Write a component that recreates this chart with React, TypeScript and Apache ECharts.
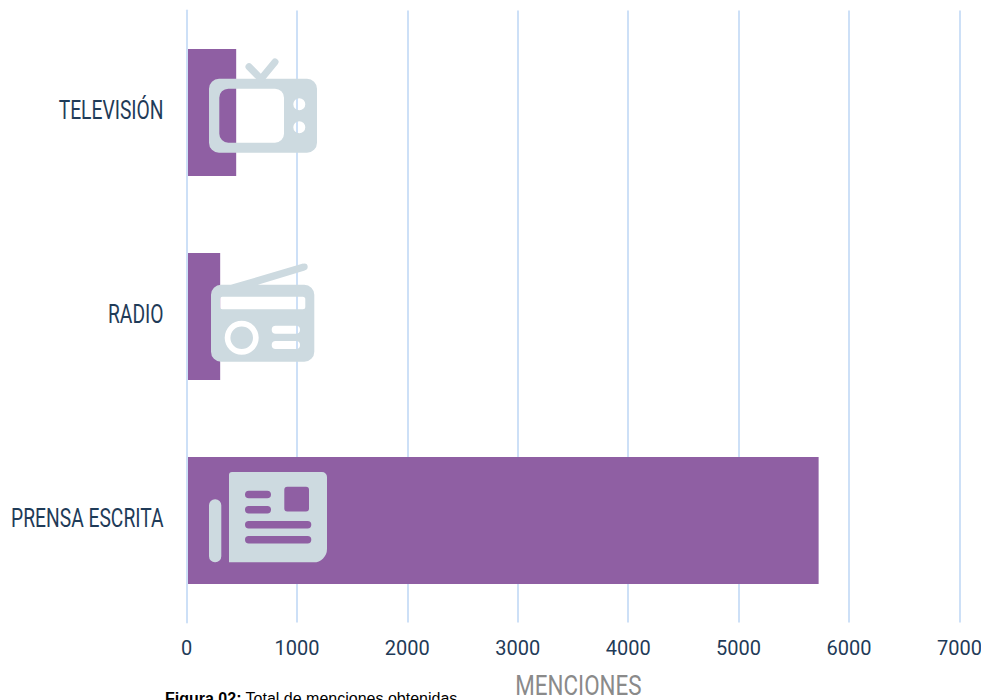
import React, { useEffect, useRef } from "react";
import * as echarts from "echarts";

const categories = ["PRENSA ESCRITA", "RADIO", "TELEVISIÓN"];
const menciones = [5725, 305, 450];
const xTicks = { min: 0, max: 7000, interval: 1000 };
const axisName = "MENCIONES";
const captionBold = "Figura 02:";
const captionText = " Total de menciones obtenidas";

const ICON = "#cddae0";
const BAR = "#8f5fa3";
const GRID = "#cde0f7";
const LABEL = "#1f3b58";
const FONT = "Roboto, sans-serif";

// cw rounded rect
const rr = (x: number, y: number, w: number, h: number, r: number) =>
  `M${x + r} ${y}L${x + w - r} ${y}A${r} ${r} 0 0 1 ${x + w} ${y + r}L${x + w} ${y + h - r}A${r} ${r} 0 0 1 ${x + w - r} ${y + h}L${x + r} ${y + h}A${r} ${r} 0 0 1 ${x} ${y + h - r}L${x} ${y + r}A${r} ${r} 0 0 1 ${x + r} ${y}Z`;
// ccw rounded rect (hole)
const hole = (x: number, y: number, w: number, h: number, r: number) =>
  `M${x + r} ${y}A${r} ${r} 0 0 0 ${x} ${y + r}L${x} ${y + h - r}A${r} ${r} 0 0 0 ${x + r} ${y + h}L${x + w - r} ${y + h}A${r} ${r} 0 0 0 ${x + w} ${y + h - r}L${x + w} ${y + r}A${r} ${r} 0 0 0 ${x + w - r} ${y}Z`;
const circle = (cx: number, cy: number, r: number) => rr(cx - r, cy - r, 2 * r, 2 * r, r);
const circleHole = (cx: number, cy: number, r: number) => hole(cx - r, cy - r, 2 * r, 2 * r, r);

const tvPath = [
  rr(209, 78.7, 108, 74, 10),
  hole(219.3, 88.7, 64.7, 54, 9),
  circleHole(299.3, 104.3, 6),
  circleHole(299.3, 127.3, 6),
].join("");

const radioPath = [
  rr(211, 284.7, 103.3, 77, 10),
  "M230 285L303 263.6L305.6 270.2L257 285Z",
  circle(304.3, 266.8, 3.4),
  hole(220, 296.7, 85.3, 12.6, 2.5),
  circleHole(241.7, 337.7, 17),
  circle(241.7, 337.7, 11.3),
  hole(271.7, 325.7, 28.3, 8, 4),
  hole(271.7, 341, 28.3, 8, 4),
].join("");

const pressPath = [
  rr(209, 499.3, 12.3, 63, 6),
  "M232 472L322 472A5 5 0 0 1 327 477L327 549A13.3 13.3 0 0 1 313.7 562.3L229 562.3L229 475A3 3 0 0 1 232 472Z",
  hole(284.3, 486.7, 24.7, 24.7, 3),
  hole(245, 490.7, 26, 7.6, 3.8),
  hole(245, 506, 26, 7.4, 3.7),
  hole(245, 521, 66.3, 7.4, 3.7),
  hole(245, 536, 66.3, 7.4, 3.7),
].join("");

echarts.graphic.registerShape("tvIcon", echarts.graphic.extendPath(tvPath, {}));
echarts.graphic.registerShape("radioIcon", echarts.graphic.extendPath(radioPath, {}));
echarts.graphic.registerShape("pressIcon", echarts.graphic.extendPath(pressPath, {}));

export default function App() {
  const ref = useRef<HTMLDivElement>(null);
  useEffect(() => {
    const chart = echarts.init(ref.current!, undefined, { renderer: "svg" });
    chart.setOption({
      animation: false,
      backgroundColor: "#ffffff",
      grid: { left: 186.5, right: 21.6, top: 10.5, bottom: 77.5, containLabel: false, outerBoundsMode: "none" },
      xAxis: {
        type: "value",
        min: xTicks.min,
        max: xTicks.max,
        interval: xTicks.interval,
        axisLine: { show: false },
        axisTick: { show: false },
        axisLabel: { color: LABEL, fontSize: 20, fontWeight: 400, fontFamily: FONT, margin: 15, showMinLabel: true, showMaxLabel: true, formatter: (v: number) => String(v) },
        splitLine: { show: true, lineStyle: { color: GRID, width: 2 } },
      },
      yAxis: {
        type: "category",
        data: categories,
        z: 3,
        axisLine: { show: true, lineStyle: { color: GRID, width: 2 } },
        axisTick: { show: false },
        axisLabel: { show: false },
      },
      series: [
        { type: "bar", data: menciones, barWidth: 127, itemStyle: { color: BAR } },
      ],
    });

    // Condensed labels: the axis labels cannot be scaled, so they are placed through the axes' own scales.
    const axisLeft = chart.convertToPixel({ xAxisIndex: 0 }, xTicks.min) as number;
    const axisMid = chart.convertToPixel({ xAxisIndex: 0 }, (xTicks.min + xTicks.max) / 2) as number;
    const categoryLabels = categories.map((name) => ({
      type: "text",
      x: axisLeft - 23,
      y: (chart.convertToPixel({ yAxisIndex: 0 }, name) as number) - 2,
      scaleX: 0.77,
      z: 10,
      style: { text: name, align: "right", verticalAlign: "middle", fill: LABEL, fontSize: 25, fontWeight: 400, fontFamily: FONT },
    }));

    chart.setOption({
      graphic: [
        { type: "tvIcon", x: 0, y: 0, z: 10, style: { fill: ICON } },
        { type: "line", z: 10, shape: { x1: 249, y1: 66.7, x2: 261, y2: 79 }, style: { stroke: ICON, lineWidth: 7, lineCap: "round" } },
        { type: "line", z: 10, shape: { x1: 275, y1: 62, x2: 261, y2: 79 }, style: { stroke: ICON, lineWidth: 7, lineCap: "round" } },
        { type: "radioIcon", x: 0, y: 0, z: 10, style: { fill: ICON } },
        { type: "pressIcon", x: 0, y: 0, z: 10, style: { fill: ICON } },
        ...categoryLabels,
        {
          type: "text",
          x: axisMid + 5.5,
          y: 685,
          scaleX: 0.8,
          z: 10,
          style: { text: axisName, align: "center", verticalAlign: "middle", fill: "#8a8a8a", fontSize: 28, fontWeight: 400, fontFamily: FONT },
        },
        {
          type: "text",
          x: 165,
          y: 690,
          z: 10,
          style: {
            text: `{b|${captionBold}}{n|${captionText}}`,
            rich: {
              b: { fontFamily: "'Liberation Sans', Arial, sans-serif", fontSize: 16, fontWeight: "bold", fill: "#000" },
              n: { fontFamily: "'Liberation Sans', Arial, sans-serif", fontSize: 16, fill: "#000" },
            },
          },
        },
      ],
    });
    return () => chart.dispose();
  }, []);
  return <div ref={ref} style={{ position: "fixed", left: 0, top: 0, width: 981, height: 700 }} />;
}
